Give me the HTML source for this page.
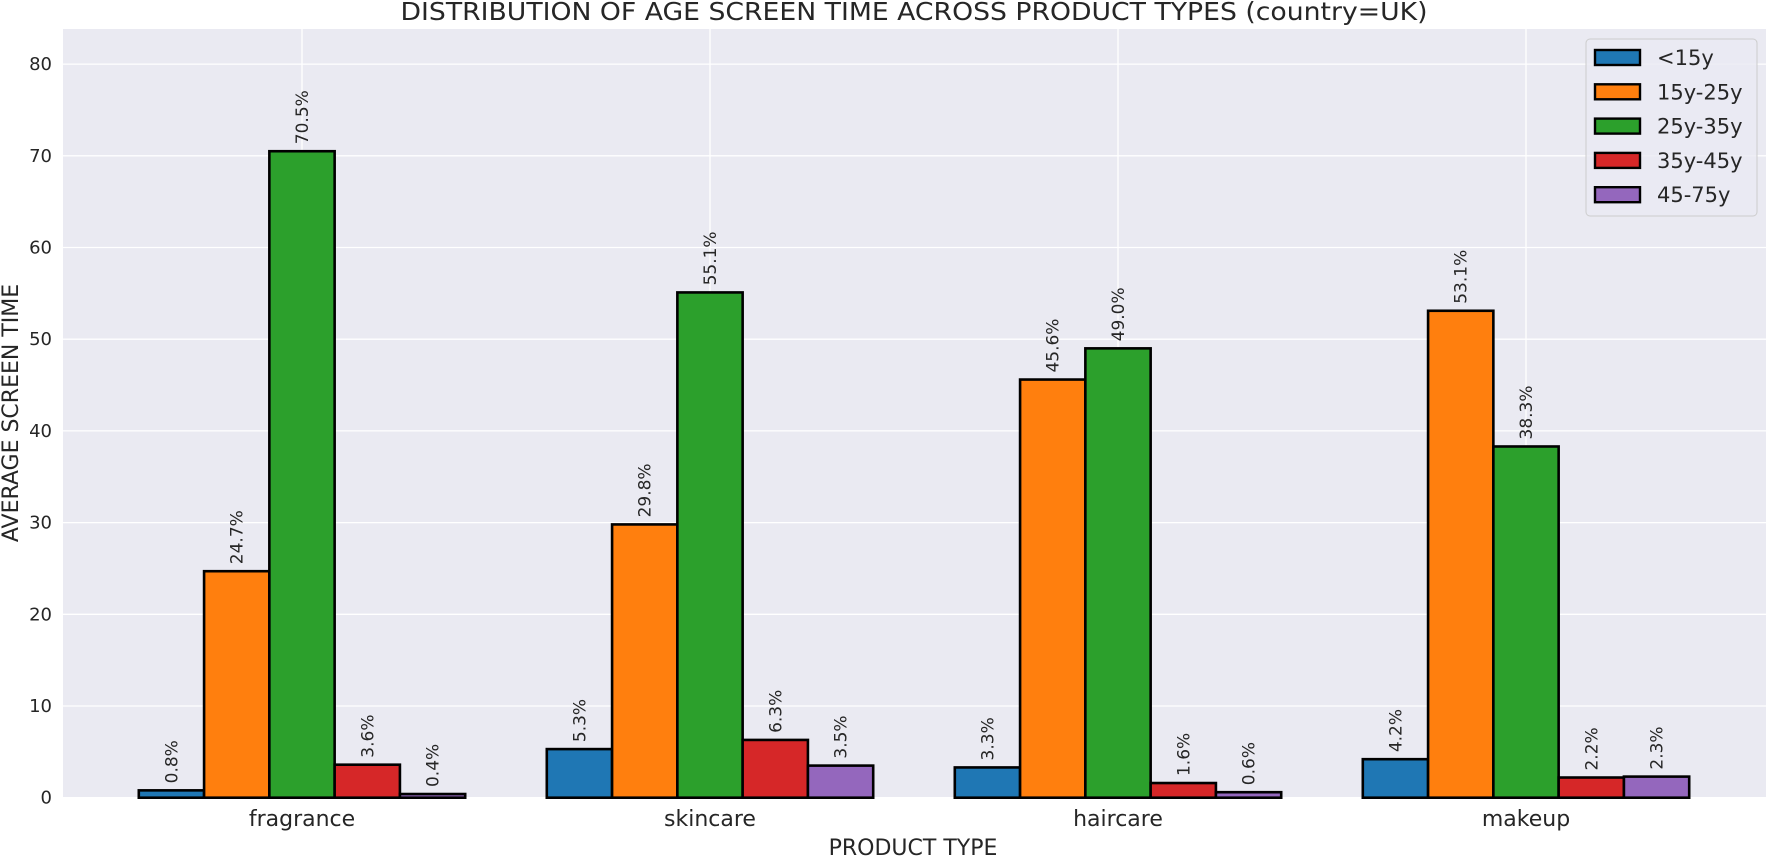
<!DOCTYPE html>
<html><head><meta charset="utf-8"><style>
html,body{margin:0;padding:0;background:#fff}
svg{display:block;font-family:"DejaVu Sans","Liberation Sans",sans-serif}
</style></head><body>
<svg id="chart" width="1766" height="859" xmlns="http://www.w3.org/2000/svg">
<rect x="63" y="29" width="1703" height="769" fill="#eaeaf2"/>
<g id="grid"></g>
<g id="bars"></g>
<g id="labels"></g>
<text x="914" y="20" text-anchor="middle" font-size="25" fill="#262626" textLength="1027" lengthAdjust="spacingAndGlyphs">DISTRIBUTION OF AGE SCREEN TIME ACROSS PRODUCT TYPES (country=UK)</text>
<text x="913" y="855" text-anchor="middle" font-size="22" fill="#262626">PRODUCT TYPE</text>
<text transform="translate(18,413) rotate(-90)" text-anchor="middle" font-size="22" fill="#262626">AVERAGE SCREEN TIME</text>
<g id="legend">
<rect x="1586" y="39" width="171" height="177" rx="4" fill="#eaeaf2" fill-opacity="0.8" stroke="#cccccc" stroke-width="1"/>
</g>
</svg>
<script>
const categories=["fragrance","skincare","haircare","makeup"];
const seriesNames=["<15y","15y-25y","25y-35y","35y-45y","45-75y"];
const s0=[0.8,5.3,3.3,4.2];
const s1=[24.7,29.8,45.6,53.1];
const s2=[70.5,55.1,49.0,38.3];
const s3=[3.6,6.3,1.6,2.2];
const s4=[0.4,3.5,0.6,2.3];
const yTicks=[0,10,20,30,40,50,60,70,80];
const series=[s0,s1,s2,s3,s4];
const colors=["#1f77b4","#ff7f0e","#2ca02c","#d62728","#9467bd"];
const NS="http://www.w3.org/2000/svg";
const X=v=>302+v*408;
const Y=v=>797.7-v*9.17;
function mk(tag,attrs,parent,text){const e=document.createElementNS(NS,tag);for(const k in attrs)e.setAttribute(k,attrs[k]);if(text!==undefined)e.textContent=text;parent.appendChild(e);return e;}
const grid=document.getElementById('grid'),bars=document.getElementById('bars'),labels=document.getElementById('labels'),svg=document.getElementById('chart'),legend=document.getElementById('legend');
yTicks.forEach(t=>{
 const l=mk('line',{x1:63,x2:1766,y1:Y(t),y2:Y(t),stroke:'#fff','stroke-width':1.3},grid);
 
 
 const tx=mk('text',{x:52,y:Y(t)+6,'text-anchor':'end','font-size':18,fill:'#262626'},svg,String(t));
 
 
});
categories.forEach((c,i)=>{
 const l=mk('line',{x1:X(i),x2:X(i),y1:29,y2:798,stroke:'#fff','stroke-width':1.3},grid);
 
 
 const tx=mk('text',{x:X(i),y:826,'text-anchor':'middle','font-size':22,fill:'#262626'},svg,c);
 
 
});
const bw=0.16;
series.forEach((s,j)=>{
 s.forEach((v,i)=>{
  const x0=X(i-0.4+j*bw), x1=X(i-0.4+(j+1)*bw);
  const r=mk('rect',{x:x0,y:Y(v),width:x1-x0,height:Y(0)-Y(v),fill:colors[j],stroke:'#000','stroke-width':2.6},bars);
  
  
  const cx=(x0+x1)/2+6, cy=Y(v)-7;
  const t=mk('text',{transform:`translate(${cx},${cy}) rotate(-90)`,'font-size':17,fill:'#262626'},labels,v.toFixed(1)+'%');
  
  
 });
});
seriesNames.forEach((n,j)=>{
 const y=50+j*34.3;
 const r=mk('rect',{x:1595,y:y,width:45,height:15,fill:colors[j],stroke:'#000','stroke-width':2.4},legend);
 
 
 const t=mk('text',{x:1657,y:y+15,'font-size':21,fill:'#262626'},legend,n);
 
 
});
</script>
</body></html>
